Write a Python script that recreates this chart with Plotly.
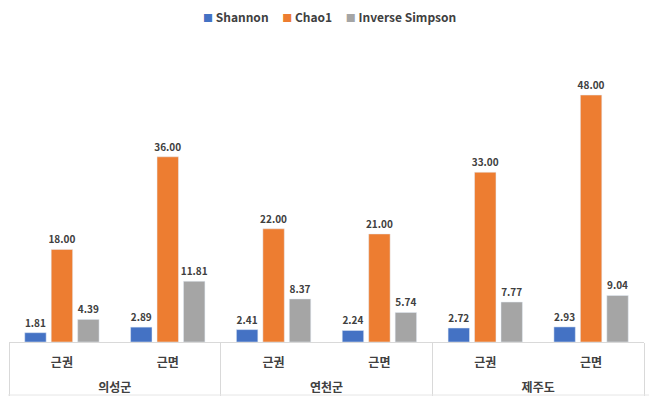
import plotly.graph_objects as go

regions = ["의성군", "의성군", "연천군", "연천군", "제주도", "제주도"]
parts = ["근권", "근면", "근권", "근면", "근권", "근면"]
shannon = [1.81, 2.89, 2.41, 2.24, 2.72, 2.93]
chao1 = [18.00, 36.00, 22.00, 21.00, 33.00, 48.00]
inv_simpson = [4.39, 11.81, 8.37, 5.74, 7.77, 9.04]

series = [("Shannon", shannon, "#4472C4"),
          ("Chao1", chao1, "#ED7D31"),
          ("Inverse Simpson", inv_simpson, "#A5A5A5")]

FONT = "Noto Sans CJK KR"
x_outer = ["<br>" + r for r in regions]  # blank first line pushes group labels lower
fig = go.Figure()
for name, vals, col in series:
    fig.add_trace(go.Bar(
        x=[x_outer, parts], y=vals, name=name, marker_color=col,
        text=[f"{v:.2f}" for v in vals], textposition="outside",
        constraintext="none",
        textfont=dict(family=FONT, size=10, color="#404040", weight="bold"),
        cliponaxis=False, showlegend=False,
    ))

fig.update_layout(
    width=658, height=406,
    margin=dict(l=1, r=22, t=32, b=72, autoexpand=False),
    plot_bgcolor="white", paper_bgcolor="white",
    barmode="group", bargap=0.25, bargroupgap=0.19,
    font=dict(family=FONT, color="#404040"),
    xaxis=dict(type="multicategory", showline=True, linecolor="#D9D9D9", linewidth=1,
               showdividers=True, dividercolor="#D9D9D9", dividerwidth=1,
               tickfont=dict(family=FONT, size=12, color="#404040", weight="bold"),
               ticks="", automargin=False, ticklabelstandoff=10),
    yaxis=dict(range=[0, 58.7], visible=False, showgrid=False, zeroline=False),
    showlegend=False,
)

legend_parts = []
for name, vals, col in series:
    legend_parts.append(f"<span style='color:{col};font-size:10px'>■</span> {name}")
fig.add_annotation(text="     ".join(legend_parts), xref="paper", yref="paper",
                   x=0.504, y=1.077, showarrow=False, xanchor="center", yanchor="middle",
                   borderpad=0,
                   font=dict(family=FONT, size=12, color="#404040", weight="bold"))
fig.add_shape(type="line", xref="paper", yref="paper", x0=-0.006, x1=1.008,
              y0=-0.1755, y1=-0.1755, line=dict(color="#E6E6E6", width=1))
fig.write_html("out.html")
